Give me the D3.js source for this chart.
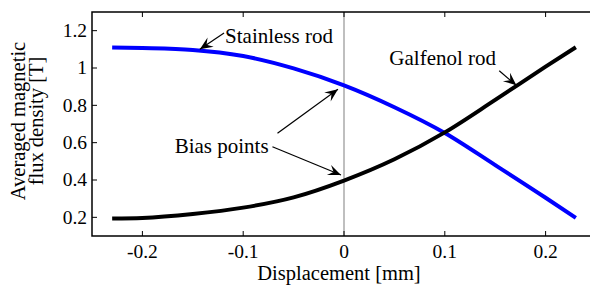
<!DOCTYPE html>
<html>
<head>
<meta charset="utf-8">
<script src="https://cdn.jsdelivr.net/npm/d3@7"></script>
<style>
  body { margin: 0; background: #fff; }
  svg text { font-family: "Liberation Serif", "Times New Roman", serif; fill: #000; }
</style>
</head>
<body>
<svg id="chart" width="590" height="286"></svg>
<script>
// displacement samples [mm]
var displacement = [-0.23, -0.2, -0.15, -0.1, -0.05, 0, 0.05, 0.1, 0.15, 0.2, 0.23];
// averaged flux density [T]
var stainless = [1.11, 1.107, 1.097, 1.064, 0.998, 0.907, 0.79, 0.652, 0.48, 0.305, 0.197];
var galfenol  = [0.194, 0.197, 0.218, 0.252, 0.307, 0.397, 0.511, 0.655, 0.829, 1.007, 1.111];

var xTicks = [-0.2, -0.1, 0, 0.1, 0.2];
var yTicks = [0.2, 0.4, 0.6, 0.8, 1, 1.2];

// annotation text and arrows, in data units
var labels = [
  {text: "Stainless rod", x: -0.118, y: 1.132},
  {text: "Galfenol rod",  x: 0.045,  y: 1.016},
  {text: "Bias points",   x: -0.168, y: 0.546}
];
var arrows = [
  {x1: -0.119, y1: 1.187, x2: -0.143, y2: 1.100},
  {x1: 0.154,  y1: 0.985, x2: 0.171,  y2: 0.907},
  {x1: -0.066, y1: 0.650, x2: -0.006, y2: 0.886},
  {x1: -0.071, y1: 0.578, x2: -0.003, y2: 0.427}
];

var serif = "'Liberation Serif', 'Times New Roman', serif";

var svg = d3.select("#chart"),
    margin = {top: 12, left: 92, bottom: 50},
    height = +svg.attr("height");

var x = d3.scaleLinear()
    .domain([-0.25, 0.25])
    .range([margin.left, 596]);

var y = d3.scaleLinear()
    .domain([0.1, 1.3])
    .range([height - margin.bottom, margin.top]);

// MATLAB style labels, plain hyphen for minus
var fmt = function(d) { return String(+d.toFixed(1)); };

// arrow head
svg.append("defs").append("marker")
    .attr("id", "head")
    .attr("markerUnits", "userSpaceOnUse")
    .attr("viewBox", "-14 -6 16 12")
    .attr("refX", 0)
    .attr("refY", 0)
    .attr("markerWidth", 16)
    .attr("markerHeight", 12)
    .attr("orient", "auto")
  .append("path")
    .attr("d", "M0,0L-13,-5.5L-8,0L-13,5.5Z")
    .attr("fill", "#000");

// zero line
svg.append("line")
    .attr("x1", x(0)).attr("x2", x(0))
    .attr("y1", y.range()[1]).attr("y2", y.range()[0])
    .attr("stroke", "#aaa")
    .attr("stroke-width", 1.5);

// ticks (inward, top and bottom)
var tickLen = 5;
svg.append("g").selectAll("line")
  .data(xTicks)
  .enter().append("line")
    .attr("x1", x).attr("x2", x)
    .attr("y1", y.range()[0]).attr("y2", y.range()[0] - tickLen)
    .attr("stroke", "#000");
svg.append("g").selectAll("line")
  .data(xTicks)
  .enter().append("line")
    .attr("x1", x).attr("x2", x)
    .attr("y1", y.range()[1]).attr("y2", y.range()[1] + tickLen)
    .attr("stroke", "#000");
svg.append("g").selectAll("line")
  .data(yTicks)
  .enter().append("line")
    .attr("x1", x.range()[0]).attr("x2", x.range()[0] + tickLen)
    .attr("y1", y).attr("y2", y)
    .attr("stroke", "#000");

// tick labels
svg.append("g").selectAll("text")
  .data(xTicks)
  .enter().append("text")
    .attr("x", x)
    .attr("y", y.range()[0] + 22)
    .attr("text-anchor", "middle")
    .attr("font-family", serif)
    .style("font-size", "19.5px")
    .text(fmt);
svg.append("g").selectAll("text")
  .data(yTicks)
  .enter().append("text")
    .attr("x", x.range()[0] - 5)
    .attr("y", y)
    .attr("dy", "0.33em")
    .attr("text-anchor", "end")
    .attr("font-family", serif)
    .style("font-size", "19.5px")
    .text(fmt);

// curves
var line = d3.line()
    .x(function(d) { return x(d[0]); })
    .y(function(d) { return y(d[1]); })
    .curve(d3.curveMonotoneX);

svg.append("path")
    .datum(d3.zip(displacement, stainless))
    .attr("d", line)
    .attr("fill", "none")
    .attr("stroke", "#0000ff")
    .attr("stroke-width", 4);

svg.append("path")
    .datum(d3.zip(displacement, galfenol))
    .attr("d", line)
    .attr("fill", "none")
    .attr("stroke", "#000")
    .attr("stroke-width", 4);

// axes box (right side falls outside the picture)
svg.append("path")
    .attr("d", "M" + x.range()[1] + "," + y.range()[1] +
               "H" + x.range()[0] + "V" + y.range()[0] + "H" + x.range()[1])
    .attr("fill", "none")
    .attr("stroke", "#000")
    .attr("stroke-width", 1.5);

// annotations
svg.append("g").selectAll("text")
  .data(labels)
  .enter().append("text")
    .attr("x", function(d) { return x(d.x); })
    .attr("y", function(d) { return y(d.y); })
    .attr("font-family", serif)
    .style("font-size", "21px")
    .text(function(d) { return d.text; });

svg.append("g").selectAll("line")
  .data(arrows)
  .enter().append("line")
    .attr("x1", function(d) { return x(d.x1); })
    .attr("y1", function(d) { return y(d.y1); })
    .attr("x2", function(d) { return x(d.x2); })
    .attr("y2", function(d) { return y(d.y2); })
    .attr("stroke", "#000")
    .attr("stroke-width", 1.2)
    .attr("marker-end", "url(#head)");

// axis titles
svg.append("text")
    .attr("x", 339)
    .attr("y", 280)
    .attr("text-anchor", "middle")
    .attr("font-family", serif)
    .style("font-size", "20.5px")
    .text("Displacement [mm]");

var ylab = svg.append("text")
    .attr("transform", "translate(25,121) rotate(-90)")
    .attr("text-anchor", "middle")
    .attr("font-family", serif)
    .style("font-size", "20.5px");
ylab.append("tspan").attr("x", 0).attr("y", 0).text("Averaged magnetic");
ylab.append("tspan").attr("x", 0).attr("y", 17.5).text("flux density [T]");
</script>
</body>
</html>
